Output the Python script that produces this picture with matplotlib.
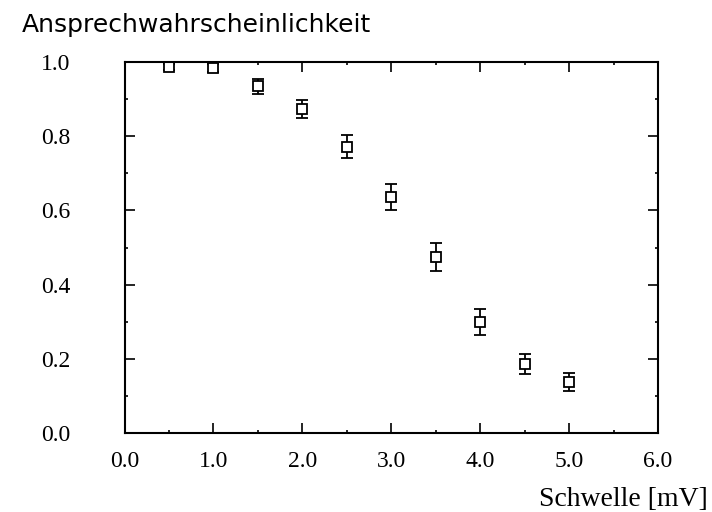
import matplotlib
matplotlib.use("Agg")
import matplotlib.pyplot as plt
from matplotlib.ticker import MultipleLocator, FormatStrFormatter

# data
schwelle = [0.5, 1.0, 1.5, 2.0, 2.5, 3.0, 3.5, 4.0, 4.5, 5.0]
prob = [0.987, 0.984, 0.935, 0.873, 0.771, 0.636, 0.474, 0.299, 0.186, 0.137]
prob_err = [0.008, 0.010, 0.020, 0.025, 0.031, 0.035, 0.037, 0.034, 0.027, 0.025]

fig = plt.figure(figsize=(7.12, 5.12), dpi=100)
ax = fig.add_axes([0.1749, 0.1543, 0.7493, 0.7246])

ax.errorbar(schwelle, prob, yerr=prob_err, fmt="s", mfc="white", mec="black",
            ms=7, mew=1.3, ecolor="black", elinewidth=1.3, capsize=4,
            capthick=1.3, color="black")

ax.set_xlim(0, 6)
ax.set_ylim(0, 1)
ax.xaxis.set_major_locator(MultipleLocator(1.0))
ax.xaxis.set_minor_locator(MultipleLocator(0.5))
ax.yaxis.set_major_locator(MultipleLocator(0.2))
ax.yaxis.set_minor_locator(MultipleLocator(0.1))
ax.xaxis.set_major_formatter(FormatStrFormatter("%.1f"))
ax.yaxis.set_major_formatter(FormatStrFormatter("%.1f"))

ax.tick_params(which="both", direction="in", top=True, right=True,
               width=1.2, labelsize=17)
ax.tick_params(which="major", length=7)
ax.tick_params(which="minor", length=2.5)
ax.tick_params(axis="x", pad=13)
ax.tick_params(axis="y", pad=39)
for lbl in ax.get_xticklabels() + ax.get_yticklabels():
    lbl.set_family("Liberation Serif")

for s in ax.spines.values():
    s.set_linewidth(1.5)

fig.text(0.031, 0.9375, "Ansprechwahrscheinlichkeit", fontsize=18,
         family="DejaVu Sans", ha="left", va="baseline")
fig.text(0.994, 0.012, "Schwelle [mV]", fontsize=20,
         family="Liberation Serif", ha="right", va="baseline")

fig.savefig("out.png", dpi=100)
